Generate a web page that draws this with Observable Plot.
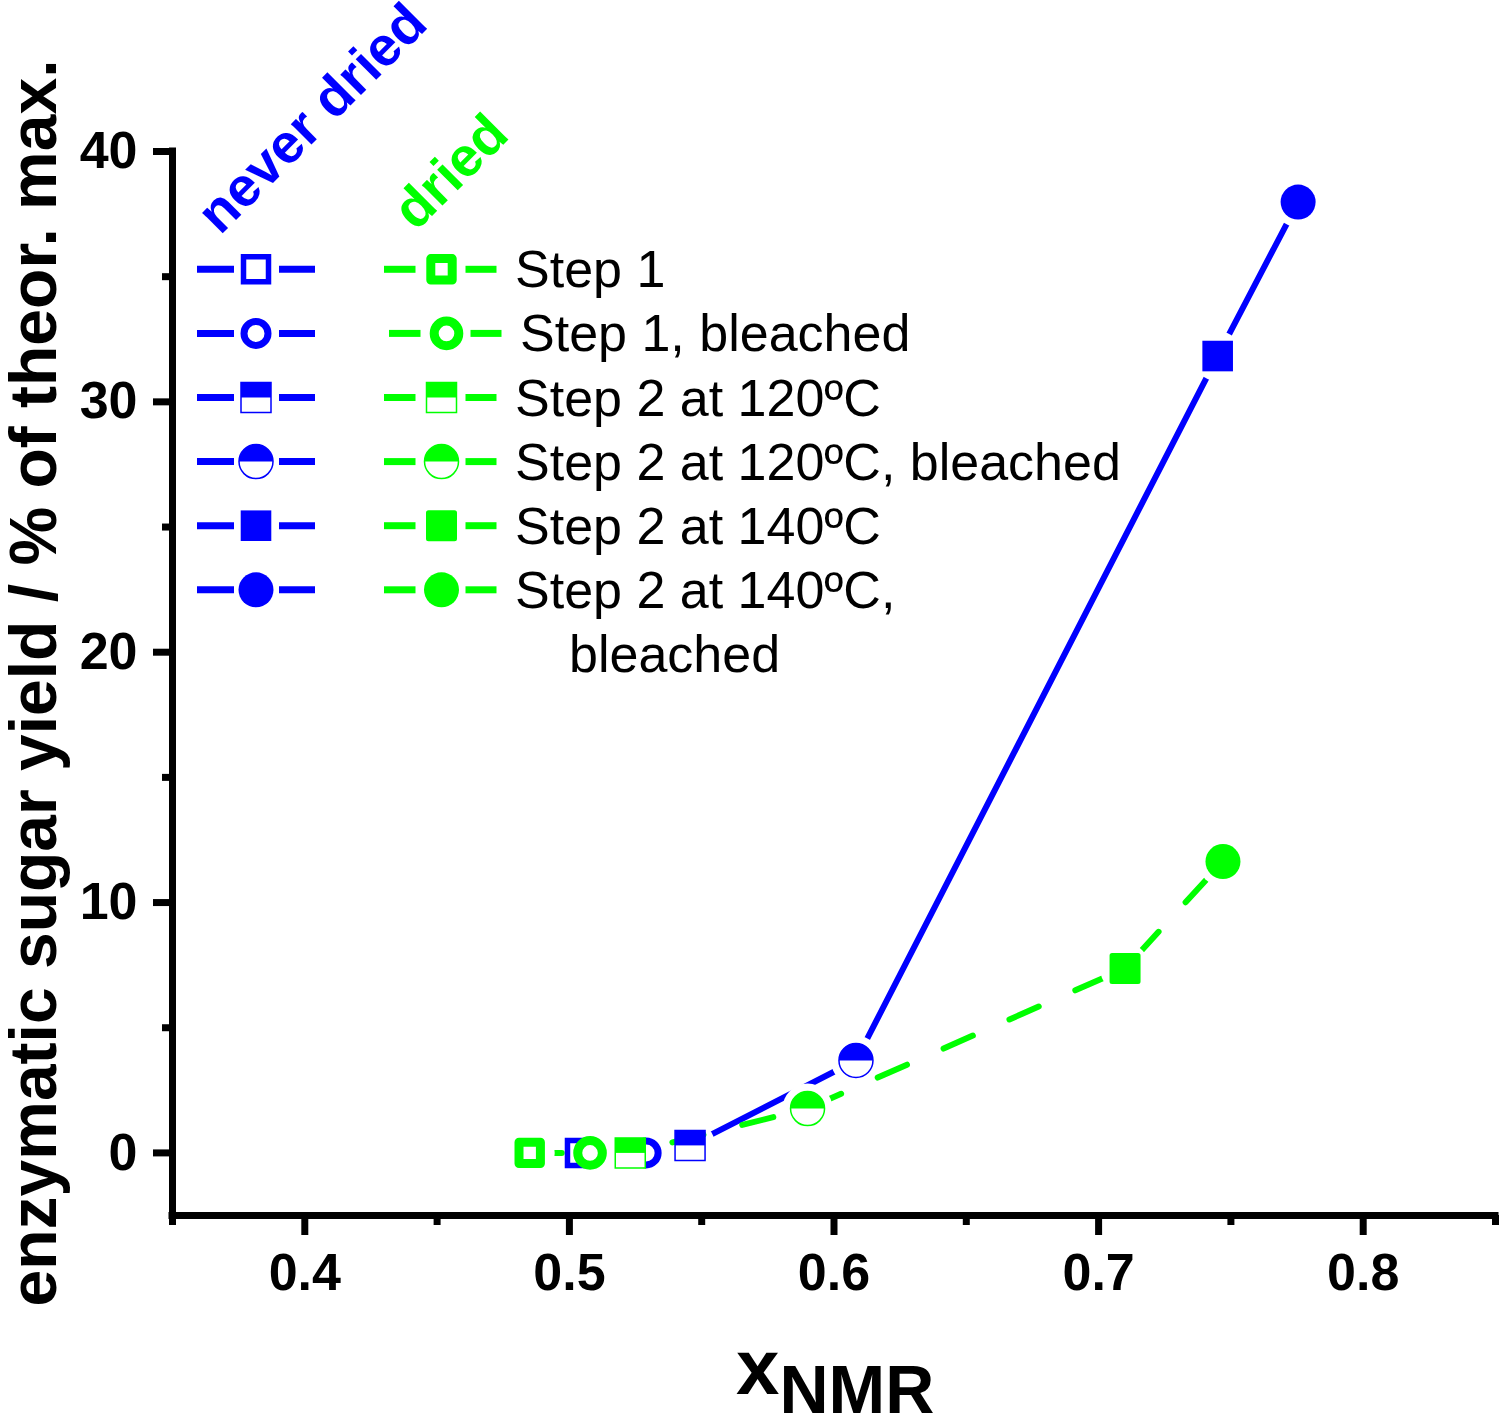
<!DOCTYPE html>
<html><head><meta charset="utf-8">
<script src="https://cdn.jsdelivr.net/npm/d3@7"></script>
<script src="https://cdn.jsdelivr.net/npm/@observablehq/plot@0.6"></script>
<style>
html,body{margin:0;padding:0;background:#fff;}
#chart svg{display:block;}
</style></head><body><div id="chart"></div>
<script>
// ---- data ----
const steps = ["Step 1", "Step 1, bleached", "Step 2 at 120ºC", "Step 2 at 120ºC, bleached", "Step 2 at 140ºC", "Step 2 at 140ºC, bleached"];
const legendLabels = [["Step 1"], ["Step 1, bleached"], ["Step 2 at 120ºC"], ["Step 2 at 120ºC, bleached"], ["Step 2 at 140ºC"], ["Step 2 at 140ºC,", "bleached"]];
const markerKinds = ["openSquare", "openCircle", "halfSquare", "halfCircle", "filledSquare", "filledCircle"];
const neverDriedX = [0.504, 0.529, 0.5456, 0.6083, 0.745, 0.7754];
const neverDriedY = [0, 0, 0.30, 3.69, 31.83, 37.98];
const driedX = [0.485, 0.5078, 0.523, 0.590, 0.710, 0.747];
const driedY = [0, 0, 0, 1.77, 7.37, 11.64];
const xTicks = [0.4, 0.5, 0.6, 0.7, 0.8];
const xMinorTicks = [0.35, 0.45, 0.55, 0.65, 0.75, 0.85];
const yTicks = [0, 10, 20, 30, 40];
const yMinorTicks = [5, 15, 25, 35];
const xDomain = [0.35, 0.85];
const yDomain = [-2.5, 40];
const seriesNames = ["never dried", "dried"];

const BLUE = "#0000ff", GREEN = "#00ff00";
const FONT = "'Liberation Sans', Arial, Helvetica, sans-serif";

const neverDried = steps.map((s, i) => ({step: s, kind: markerKinds[i], x: neverDriedX[i], y: neverDriedY[i]}));
const dried = steps.map((s, i) => ({step: s, kind: markerKinds[i], x: driedX[i], y: driedY[i]}));

// ---- custom symbols ----
const R = (s) => Math.sqrt(s / Math.PI);
const sym = {
  square: {draw(c, s) { const r = R(s); c.moveTo(-r, -r); c.lineTo(r, -r); c.lineTo(r, r); c.lineTo(-r, r); c.closePath(); }},
  circle: {draw(c, s) { const r = R(s); c.moveTo(r, 0); c.arc(0, 0, r, 0, 2 * Math.PI); c.closePath(); }},
  topSquare: {draw(c, s) { const r = R(s); c.moveTo(-r, -r); c.lineTo(r, -r); c.lineTo(r, 0); c.lineTo(-r, 0); c.closePath(); }},
  topCircle: {draw(c, s) { const r = R(s); c.moveTo(-r, 0); c.arc(0, 0, r, Math.PI, 2 * Math.PI); c.closePath(); }}
};

function layers(kind, color) {
  const green = color === GREEN;
  switch (kind) {
    case "openSquare": return green
      ? [{symbol: sym.square, r: 10.7, fill: "white", stroke: color, strokeWidth: 9, strokeLinejoin: "round"}]
      : [{symbol: sym.square, r: 12.5, fill: "white", stroke: color, strokeWidth: 5.5}];
    case "openCircle": return green
      ? [{symbol: sym.circle, r: 12.3, fill: "white", stroke: color, strokeWidth: 9}]
      : [{symbol: sym.circle, r: 12, fill: "white", stroke: color, strokeWidth: 7}];
    case "halfSquare": return [
      {symbol: sym.square, r: 15, fill: "white", stroke: color, strokeWidth: 1.5},
      {symbol: sym.topSquare, r: 15, fill: color}];
    case "halfCircle": return [
      {symbol: sym.circle, r: 17, fill: "white", stroke: color, strokeWidth: 1.5},
      {symbol: sym.topCircle, r: 17, fill: color}];
    case "filledSquare": return green
      ? [{symbol: sym.square, r: 13, fill: color, stroke: color, strokeWidth: 5, strokeLinejoin: "round"}]
      : [{symbol: sym.square, r: 15.3, fill: color}];
    case "filledCircle": return [{symbol: sym.circle, r: 17.5, fill: color}];
  }
}

function markerMarks(data, color) {
  const out = [];
  for (const k of markerKinds) {
    const sub = data.filter(d => d.kind === k);
    for (const L of layers(k, color)) out.push(Plot.dot(sub, {x: "x", y: "y", ...L}));
  }
  return out;
}

const axisStyle = {strokeWidth: 7, fontSize: 52, fontWeight: "bold", label: null};

const chart = Plot.plot({
  width: 1500, height: 1417,
  marginLeft: 172, marginRight: 5, marginTop: 151, marginBottom: 202,
  x: {domain: xDomain},
  y: {domain: yDomain},
  style: {fontFamily: FONT, background: "white", color: "black", overflow: "visible"},
  marks: [
    Plot.axisX({...axisStyle, ticks: xTicks, tickSize: 20, tickPadding: 18, tickFormat: d => d.toFixed(1)}),
    Plot.axisX({...axisStyle, ticks: xMinorTicks, tickSize: 10, tickFormat: () => ""}),
    Plot.axisY({...axisStyle, ticks: yTicks, tickSize: 19, tickPadding: 16, tickFormat: d => String(d)}),
    Plot.axisY({...axisStyle, ticks: yMinorTicks, tickSize: 10, tickFormat: () => ""}),
    Plot.ruleY([yDomain[0]], {x1: xDomain[0], x2: xDomain[1], strokeWidth: 7, strokeLinecap: "square"}),
    Plot.ruleX([xDomain[0]], {y1: yDomain[0], y2: yDomain[1], strokeWidth: 7, strokeLinecap: "square"}),
    // never dried line + gaps
    Plot.line(neverDried, {x: "x", y: "y", stroke: BLUE, strokeWidth: 6}),
    Plot.dot(neverDried, {x: "x", y: "y", r: 25, fill: "white"}),
    // dried line + gaps
    Plot.line(dried, {x: "x", y: "y", stroke: GREEN, strokeWidth: 6, strokeDasharray: "32,40"}),
    Plot.dot(dried, {x: "x", y: "y", r: 25, fill: "white"}),
    ...markerMarks(neverDried, BLUE),
    ...markerMarks(dried, GREEN)
  ]
});
document.getElementById("chart").append(chart);

// ---- annotations & legend ----
const svg = d3.select(chart);
svg.selectAll('g[aria-label="x-axis tick label"] text, g[aria-label="y-axis tick label"] text').attr("font-weight", "bold");

const ann = svg.append("g").attr("font-family", FONT).attr("text-anchor", "start");

// y axis title
ann.append("text")
  .attr("transform", "translate(56,683) rotate(-90)")
  .attr("text-anchor", "middle")
  .attr("font-size", 66).attr("font-weight", "bold").attr("fill", "black")
  .text("enzymatic sugar yield / % of theor. max.");

// x axis title
const xt = ann.append("text").attr("x", 736).attr("y", 1394)
  .attr("text-anchor", "start").attr("font-weight", "bold").attr("fill", "black");
xt.append("tspan").attr("font-size", 78).text("x");
xt.append("tspan").attr("font-size", 68).attr("dy", 19).text("NMR");

// group titles
ann.append("text").attr("transform", "translate(220,236) rotate(-45)").attr("text-anchor", "start")
  .attr("font-size", 55).attr("font-weight", "bold").attr("fill", BLUE).text(seriesNames[0]);
ann.append("text").attr("transform", "translate(416,232) rotate(-45)").attr("text-anchor", "start")
  .attr("font-size", 55).attr("font-weight", "bold").attr("fill", GREEN).text(seriesNames[1]);

// legend
const leg = ann.append("g");
const row0 = 269.3, rowStep = 64.1;
function drawKey(cx, cy, kind, color, segs) {
  for (const [a, b] of segs) {
    leg.append("line").attr("x1", cx + a).attr("x2", cx + b).attr("y1", cy).attr("y2", cy)
      .attr("stroke", color).attr("stroke-width", 7);
  }
  for (const L of layers(kind, color)) {
    const p = d3.path();
    L.symbol.draw(p, L.r * L.r * Math.PI);
    leg.append("path").attr("transform", `translate(${cx},${cy})`).attr("d", p.toString())
      .attr("fill", L.fill || "none").attr("stroke", L.stroke || "none")
      .attr("stroke-width", L.strokeWidth || 0).attr("stroke-linejoin", L.strokeLinejoin || "miter");
  }
}
markerKinds.forEach((k, i) => {
  const cy = row0 + i * rowStep;
  const shift = i === 1 ? 5 : 0;
  drawKey(256, cy, k, BLUE, [[-59, -22], [23, 59]]);
  drawKey(441.5 + shift, cy, k, GREEN, [[-57.5, -26], [24, 55]]);
  legendLabels[i].forEach((t, j) => {
    leg.append("text").attr("x", j === 0 ? 515 + shift : 569).attr("y", cy + 18 + j * 64)
      .attr("text-anchor", "start").attr("font-size", 52).attr("fill", "black").text(t);
  });
});
</script>
</body></html>
